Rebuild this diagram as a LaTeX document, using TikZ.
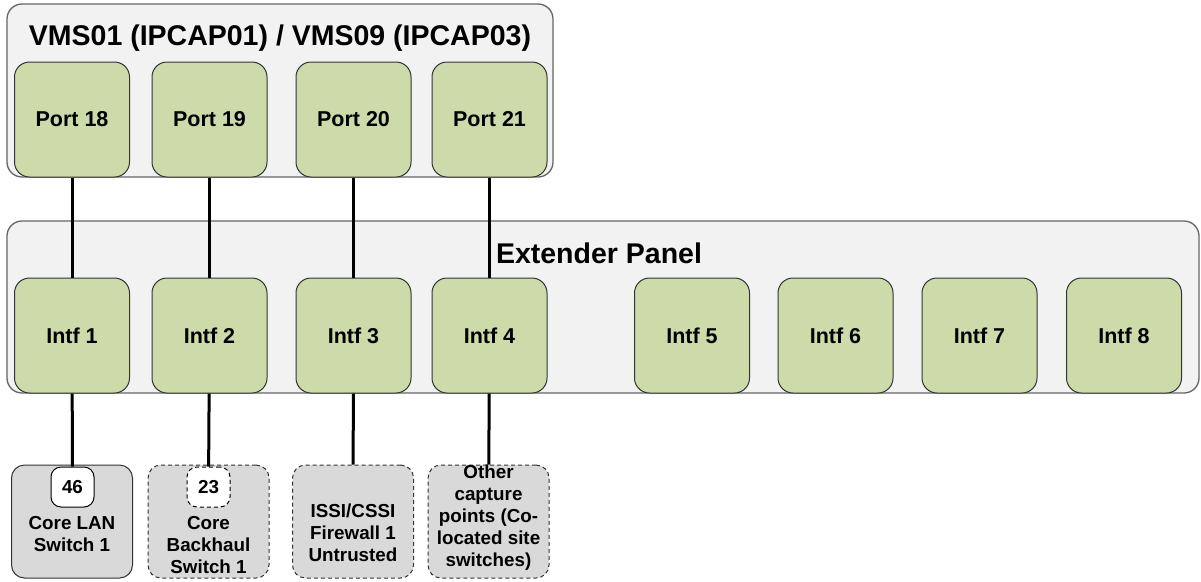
\documentclass[tikz,border=0pt]{standalone}
\usepackage{fontspec}
\setmainfont{Liberation Sans}
\definecolor{portgreen}{HTML}{CDDBAA}
\definecolor{panelgrey}{HTML}{F2F2F2}
\definecolor{panelline}{HTML}{666666}
\definecolor{devgrey}{HTML}{D9D9D9}
\definecolor{edgedark}{HTML}{333333}
\tikzset{
  panel/.style={draw=panelline, fill=panelgrey, line width=1.3pt, rounded corners=15pt, inner sep=0pt},
  portbox/.style={draw=edgedark, fill=portgreen, line width=1pt, rounded corners=15pt,
    minimum width=115pt, minimum height=115pt, inner sep=0pt, font=\fontsize{21.5}{24}\selectfont\bfseries},
  device/.style={draw=edgedark, fill=devgrey, line width=1pt, rounded corners=13pt,
    minimum width=121pt, minimum height=113pt, inner sep=0pt},
  planned/.style={device, dash pattern=on 4pt off 3pt},
  tagbox/.style={draw=black, fill=white, line width=1pt, rounded corners=10pt,
    minimum width=43pt, minimum height=40pt, inner sep=0pt, font=\fontsize{18.8}{22}\selectfont\bfseries},
  devtext/.style={align=center, inner sep=0pt, font=\fontsize{18.8}{22}\selectfont\bfseries},
  heading/.style={inner sep=0pt, font=\fontsize{28.5}{32}\selectfont\bfseries},
  link/.style={line width=3pt, draw=black}
}
\begin{document}
\begin{tikzpicture}[x=1pt, y=-1pt]
\useasboundingbox (0,0) rectangle (1201,581);

% capture appliance
\node[panel, minimum width=546pt, minimum height=173pt] (vms) at (280,90.5) {};
\node[heading] (vmstitle) at (280,38) {VMS01 (IPCAP01) / VMS09 (IPCAP03)};
\node[portbox] (p18) at (72,119.5) {Port 18};
\node[portbox] (p19) at (209.5,119.5) {Port 19};
\node[portbox] (p20) at (353.5,119.5) {Port 20};
\node[portbox] (p21) at (489.5,119.5) {Port 21};

% extender panel
\node[panel, minimum width=1192pt, minimum height=172pt] (ext) at (603,307) {};
\node[heading] (exttitle) at (599,253) {Extender Panel};
\node[portbox] (i1) at (72,335.5) {Intf 1};
\node[portbox] (i2) at (209.5,335.5) {Intf 2};
\node[portbox] (i3) at (353.5,335.5) {Intf 3};
\node[portbox] (i4) at (489.5,335.5) {Intf 4};
\node[portbox] (i5) at (692,335.5) {Intf 5};
\node[portbox] (i6) at (835.5,335.5) {Intf 6};
\node[portbox] (i7) at (979.5,335.5) {Intf 7};
\node[portbox] (i8) at (1124,335.5) {Intf 8};

% attached devices
\node[device] (d1) at (72,521.5) {};
\node[tagbox] (t46) at (72.5,487) {46};
\node[devtext] (d1txt) at (72,534) {Core LAN\\Switch 1};

\node[planned] (d2) at (208.5,521.5) {};
\node[tagbox, dash pattern=on 4pt off 3pt] (t23) at (208.5,487) {23};
\node[devtext] (d2txt) at (208.5,545.5) {Core\\Backhaul\\Switch 1};

\node[planned] (d3) at (353,521.5) {};
\node[devtext] (d3txt) at (353,533) {ISSI/CSSI\\Firewall 1\\Untrusted};

\node[planned] (d4) at (488.5,521.5) {};
\node[devtext] (d4txt) at (488.5,518) {Other\\capture\\points (Co-\\located site\\switches)};

% cabling
\draw[link] (p18) -- (i1);
\draw[link] (p19) -- (i2);
\draw[link] (p20) -- (i3);
\draw[link] (p21) -- (i4);
\draw[link] (i1) -- (t46);
\draw[link] (i2) -- (t23);
\draw[link] (i3) -- (d3);
\draw[link] (i4) -- (d4);
\end{tikzpicture}
\end{document}
